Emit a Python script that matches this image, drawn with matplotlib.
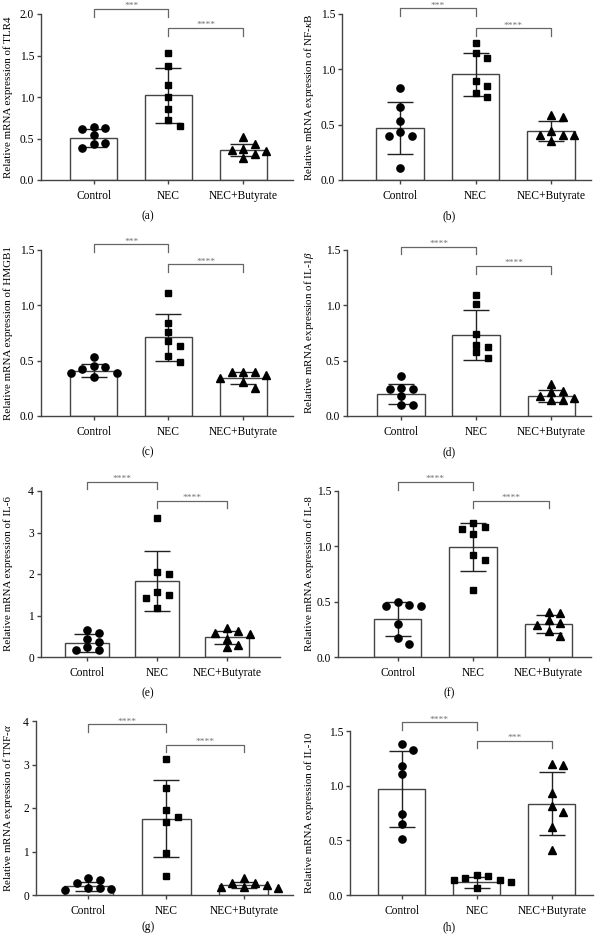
import numpy as np
import matplotlib
matplotlib.use('Agg')
import matplotlib.pyplot as plt

plt.rcParams['font.family'] = ['Liberation Serif', 'DejaVu Serif']
plt.rcParams['mathtext.fontset'] = 'custom'
plt.rcParams['mathtext.rm'] = 'Liberation Serif'
plt.rcParams['mathtext.it'] = 'Liberation Serif:italic'

# Grupos
grupos = ['Control', 'NEC', 'NEC+Butyrate']

# (a) TLR4
tlr4_media = [0.51, 1.02, 0.36]
tlr4_dp = [0.11, 0.33, 0.075]
tlr4_pontos = [[0.64, 0.63, 0.62, 0.54, 0.45, 0.43, 0.39],
               [1.53, 1.37, 1.14, 1.00, 0.86, 0.72, 0.655],
               [0.52, 0.43, 0.37, 0.36, 0.35, 0.31, 0.27]]
tlr4_colchetes = [2.06, 1.83]
tlr4_estrelas = ['***', '****']

# (b) NF-kB
nfkb_media = [0.467, 0.955, 0.443]
nfkb_dp = [0.235, 0.195, 0.09]
nfkb_pontos = [[0.83, 0.66, 0.53, 0.43, 0.40, 0.40, 0.11],
               [1.24, 1.15, 1.105, 0.895, 0.85, 0.79, 0.75],
               [0.587, 0.57, 0.443, 0.41, 0.405, 0.405, 0.35]]
nfkb_colchetes = [1.55, 1.37]
nfkb_estrelas = ['***', '****']

# (c) HMGB1
hmgb1_media = [0.41, 0.71, 0.343]
hmgb1_dp = [0.06, 0.21, 0.055]
hmgb1_pontos = [[0.53, 0.45, 0.44, 0.425, 0.385, 0.385, 0.35],
                [1.11, 0.84, 0.755, 0.675, 0.635, 0.54, 0.49],
                [0.40, 0.40, 0.395, 0.373, 0.343, 0.31, 0.25]]
hmgb1_colchetes = [1.55, 1.37]
hmgb1_estrelas = ['***', '****']

# (d) IL-1beta
il1b_media = [0.20, 0.733, 0.183]
il1b_dp = [0.09, 0.225, 0.055]
il1b_pontos = [[0.357, 0.252, 0.243, 0.243, 0.183, 0.10, 0.096],
               [1.09, 1.015, 0.74, 0.643, 0.628, 0.574, 0.52],
               [0.29, 0.228, 0.22, 0.177, 0.162, 0.144, 0.144]]
il1b_colchetes = [1.53, 1.355]
il1b_estrelas = ['****', '****']

# (e) IL-6
il6_media = [0.337, 1.836, 0.47]
il6_dp = [0.22, 0.73, 0.16]
il6_pontos = [[0.64, 0.59, 0.44, 0.35, 0.24, 0.16, 0.16],
              [3.34, 2.04, 2.01, 1.56, 1.50, 1.43, 1.19],
              [0.70, 0.625, 0.59, 0.55, 0.44, 0.30, 0.24]]
il6_colchetes = [4.22, 3.76]
il6_estrelas = ['****', '****']

# (f) IL-8
il8_media = [0.343, 0.994, 0.30]
il8_dp = [0.157, 0.22, 0.08]
il8_pontos = [[0.497, 0.473, 0.464, 0.458, 0.30, 0.17, 0.117],
              [1.21, 1.175, 1.154, 1.111, 0.919, 0.873, 0.602],
              [0.407, 0.395, 0.331, 0.307, 0.292, 0.232, 0.187]]
il8_colchetes = [1.58, 1.41]
il8_estrelas = ['****', '****']

# (g) TNF-alpha
tnfa_media = [0.20, 1.755, 0.23]
tnfa_dp = [0.11, 0.89, 0.08]
tnfa_pontos = [[0.38, 0.34, 0.28, 0.17, 0.15, 0.14, 0.115],
               [3.12, 2.47, 1.95, 1.785, 1.67, 0.965, 0.43],
               [0.38, 0.28, 0.27, 0.24, 0.19, 0.18, 0.15]]
tnfa_colchetes = [3.92, 3.45]
tnfa_estrelas = ['****', '****']

# (h) IL-10
il10_media = [0.97, 0.115, 0.836]
il10_dp = [0.345, 0.047, 0.287]
il10_pontos = [[1.377, 1.325, 1.18, 1.106, 0.74, 0.65, 0.51],
               [0.185, 0.173, 0.155, 0.134, 0.134, 0.118, 0.064],
               [1.20, 1.19, 0.936, 0.81, 0.76, 0.62, 0.413]]
il10_colchetes = [1.58, 1.41]
il10_estrelas = ['****', '***']

# Configuração de cada painel: dados, rótulo, limite y e posição em pixels
paineis = [
    ('(a)', 'Relative mRNA expression of TLR4', tlr4_media, tlr4_dp, tlr4_pontos,
     tlr4_colchetes, tlr4_estrelas, 2.0, 0.5, (41, 293, 14, 180), (-0.71, 2.67), 0, 36),
    ('(b)', 'Relative mRNA expression of NF-$\\kappa$B', nfkb_media, nfkb_dp, nfkb_pontos,
     nfkb_colchetes, nfkb_estrelas, 1.5, 0.5, (342, 591, 14, 180), (-0.77, 2.53), 301, 36),
    ('(c)', 'Relative mRNA expression of HMGB1', hmgb1_media, hmgb1_dp, hmgb1_pontos,
     hmgb1_colchetes, hmgb1_estrelas, 1.5, 0.5, (41, 293, 250, 416), (-0.71, 2.67), 0, 36),
    ('(d)', 'Relative mRNA expression of IL-1$\\beta$', il1b_media, il1b_dp, il1b_pontos,
     il1b_colchetes, il1b_estrelas, 1.5, 0.5, (347, 591, 250, 416), (-0.72, 2.53), 301, 36),
    ('(e)', 'Relative mRNA expression of IL-6', il6_media, il6_dp, il6_pontos,
     il6_colchetes, il6_estrelas, 4, 1, (41, 280, 491, 657), (-0.66, 2.76), 0, 36),
    ('(f)', 'Relative mRNA expression of IL-8', il8_media, il8_dp, il8_pontos,
     il8_colchetes, il8_estrelas, 1.5, 0.5, (338, 591, 491, 657), (-0.79, 2.56), 301, 36),
    ('(g)', 'Relative mRNA expression of TNF-$\\alpha$', tnfa_media, tnfa_dp, tnfa_pontos,
     tnfa_colchetes, tnfa_estrelas, 4, 1, (36, 293, 721, 895), (-0.67, 2.63), 0, 32),
    ('(h)', 'Relative mRNA expression of IL-10', il10_media, il10_dp, il10_pontos,
     il10_colchetes, il10_estrelas, 1.5, 0.5, (350, 593, 731, 895), (-0.69, 2.55), 301, 32),
]

marcadores = [('o', 5.2), ('s', 5.0), ('^', 5.6)]
cor_eixo = '#444444'
fs = 8.3

W, H = 602, 936
fig = plt.figure(figsize=(W / 100, H / 100), dpi=100)


def espalhar(valores, ppu_x, ppu_y, passo=11.5):
    # distribuição simples tipo "beeswarm" em pixels
    colocados = []
    desloc = []
    for v in valores:
        y = v * ppu_y
        for k in [0, 1, -1, 2, -2, 3, -3]:
            x = k * passo
            ok = True
            for (px, py) in colocados:
                if abs(px - x) < 10 and abs(py - y) < 7.5:
                    ok = False
                    break
            if ok:
                break
        colocados.append((x, y))
        desloc.append(x / ppu_x)
    return desloc


for (letra, rotulo, media, dp, pontos, colchetes, estrelas, ymax, passo_y,
     (x0, x1, yt, yb), xlim, col, dy_letra) in paineis:
    ax = fig.add_axes([x0 / W, 1 - yb / H, (x1 - x0) / W, (yb - yt) / H])
    ax.set_xlim(*xlim)
    ax.set_ylim(0, ymax)
    ppu_x = (x1 - x0) / (xlim[1] - xlim[0])
    ppu_y = (yb - yt) / ymax
    xs = np.arange(len(grupos))
    ax.bar(xs, media, width=0.63, color='white', edgecolor=cor_eixo, linewidth=1.0, zorder=1)
    ax.errorbar(xs, media, yerr=dp, fmt='none', ecolor='#222222', elinewidth=1.0,
                capsize=9.4, capthick=1.0, zorder=2)
    for i, vals in enumerate(pontos):
        d = espalhar(vals, ppu_x, ppu_y)
        m, ms = marcadores[i]
        ax.plot(xs[i] + np.array(d), vals, linestyle='none', marker=m, markersize=ms,
                color='black', zorder=3, clip_on=False)

    # colchetes de significância
    pares = [(0, 1), (1, 2)]
    for (a, b), hy, st in zip(pares, colchetes, estrelas):
        baixo = hy - 7.5 / ppu_y
        ax.plot([a, a, b, b], [baixo, hy, hy, baixo], color='#666666', linewidth=0.9,
                clip_on=False, zorder=4)
        ax.annotate(st, xy=((a + b) / 2, hy), xytext=(0, 0.6), textcoords='offset points',
                    ha='center', va='baseline', fontsize=6.8, color='#707070',
                    annotation_clip=False)

    ax.spines['top'].set_visible(False)
    ax.spines['right'].set_visible(False)
    for s in ['left', 'bottom']:
        ax.spines[s].set_color(cor_eixo)
        ax.spines[s].set_linewidth(1.0)
    ax.set_xticks(xs)
    ax.set_xticklabels(grupos, fontsize=fs)
    ticks = np.arange(0, ymax + 1e-9, passo_y)
    ax.set_yticks(ticks)
    if passo_y < 1:
        ax.set_yticklabels(['%.1f' % t for t in ticks], fontsize=fs)
    else:
        ax.set_yticklabels(['%d' % t for t in ticks], fontsize=fs)
    ax.tick_params(axis='both', length=3, width=1.0, color=cor_eixo, pad=2)
    ax.tick_params(axis='x', pad=4)

    # rótulo do eixo y e letra do painel
    fig.text((col + 8) / W, 1 - ((yt + yb) / 2) / H, rotulo, rotation=90,
             ha='center', va='center', fontsize=7.9)
    fig.text((col + 148) / W, 1 - (yb + dy_letra) / H, letra, ha='center', va='center',
             fontsize=fs)

plt.savefig('out.png', dpi=100)
